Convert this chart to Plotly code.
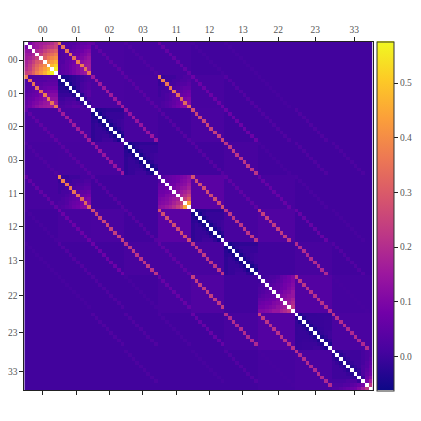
import plotly.graph_objects as go

labels = ["00", "01", "02", "03", "11", "12", "13", "22", "23", "33"]
sizes = [9, 9, 9, 9, 9, 9, 9, 10, 10, 11]
cbar_ticks = [0.0, 0.1, 0.2, 0.3, 0.4, 0.5]
cbar_labels = ["0.0", "0.1", "0.2", "0.3", "0.4", "0.5"]
zmin, zmax = -0.0624, 0.576
default_level = 0.004
diag_level = 1.0

# upper triangles (no diagonal) of the blocks on the main diagonal
tri_00 = [[.09, .13, .15, .16, .17, .18, .20, .24],
          [.13, .15, .17, .20, .22, .23, .26],
          [.18, .20, .24, .27, .29, .31],
          [.24, .29, .32, .34, .37],
          [.31, .36, .39, .41],
          [.40, .43, .46],
          [.48, .52],
          [.56]]
tri_01 = [[-.05, -.04, -.03, -.02, -.01, .00, .01, .02],
          [-.05, -.03, -.02, -.01, .00, .01, .02],
          [-.05, -.02, -.01, .01, .02, .03],
          [-.05, -.01, .01, .02, .03],
          [-.04, .01, .03, .04],
          [-.03, .02, .04],
          [-.02, .02],
          [-.01]]
tri_dark = [[-.05, -.03, -.025, -.02, -.02, -.02, -.02, -.02],
            [-.05, -.02, -.01, -.01, -.01, -.01, -.01],
            [-.05, -.02, -.01, -.01, -.01, -.01],
            [-.05, -.02, -.01, -.005, .00],
            [-.05, -.02, -.005, .00],
            [-.05, -.02, .00],
            [-.05, -.02],
            [-.05]]
tri_11 = [[.03, .05, .06, .07, .08, .09, .10, .12],
          [.05, .06, .07, .08, .10, .11, .13],
          [.07, .08, .10, .11, .12, .15],
          [.09, .11, .13, .14, .17],
          [.12, .15, .17, .20],
          [.17, .20, .24],
          [.24, .30],
          [.44]]
tri_22 = [[.00, .01, .02, .02, .03, .05, .06, .08, .10],
          [.02, .02, .03, .04, .05, .07, .08, .10],
          [.03, .04, .05, .06, .08, .09, .11],
          [.05, .05, .07, .08, .10, .12],
          [.06, .08, .10, .11, .14],
          [.10, .11, .13, .14],
          [.13, .14, .17],
          [.16, .19],
          [.22]]
tri_23 = [[-.04, -.015, -.015, -.012, -.012, -.01, -.01, -.01, -.01],
          [-.04, -.015, -.01, -.01, -.01, -.01, -.008, -.008],
          [-.04, -.015, -.01, -.01, -.008, -.005, -.005],
          [-.04, -.015, -.01, -.008, -.005, -.005],
          [-.04, -.015, -.01, -.005, -.005],
          [-.04, -.015, -.005, .00],
          [-.04, -.015, .00],
          [-.04, -.015],
          [-.04]]
tri_33 = [[-.03, -.01, .00, .00, .00, .00, .00, .01, .02, .03],
          [-.03, -.01, .00, .00, .00, .00, .01, .02, .03],
          [-.03, -.01, .00, .00, .00, .01, .02, .04],
          [-.03, -.01, .00, .00, .01, .03, .05],
          [-.03, -.01, .00, .02, .03, .06],
          [-.03, -.01, .02, .04, .07],
          [-.02, .02, .05, .08],
          [-.01, .07, .11],
          [.09, .16],
          [.22]]

# background of selected off-diagonal blocks (row block, column block)
bg_00_01 = [[.02, .02, .02, .03, .03, .04, .05, .05, .06],
            [.02, .02, .03, .03, .04, .05, .06, .07, .08],
            [.02, .03, .03, .04, .05, .06, .07, .09, .10],
            [.02, .03, .04, .05, .06, .07, .09, .10, .12],
            [.02, .03, .04, .05, .07, .09, .10, .12, .14],
            [.03, .03, .05, .06, .08, .10, .12, .14, .15],
            [.03, .04, .05, .07, .09, .11, .13, .15, .16],
            [.03, .04, .05, .07, .09, .11, .13, .15, .16],
            [.03, .04, .05, .07, .09, .11, .13, .15, .16]]
bg_01_11 = [[-.01, -.01, .00, .00, .00, .01, .01, .02, .02],
            [-.01, -.01, .00, .00, .01, .01, .02, .02, .03],
            [-.01, .00, .00, .01, .01, .02, .03, .03, .04],
            [.00, .00, .01, .01, .02, .03, .04, .05, .05],
            [.00, .01, .01, .02, .03, .04, .05, .06, .07],
            [.00, .01, .02, .03, .04, .05, .06, .07, .08],
            [.01, .01, .02, .03, .05, .06, .07, .09, .10],
            [.01, .02, .03, .04, .05, .07, .09, .10, .11],
            [.01, .02, .03, .04, .06, .08, .10, .11, .12]]

block_tri = {"00": tri_00, "01": tri_01, "02": tri_dark, "03": tri_dark,
             "11": tri_11, "12": tri_dark, "13": tri_dark,
             "22": tri_22, "23": tri_23, "33": tri_33}
block_bg = {("00", "01"): bg_00_01, ("01", "11"): bg_01_11}
block_fill = {("00", "02"): .015, ("00", "03"): .01, ("00", "11"): .01,
              ("01", "02"): .015, ("01", "03"): .012, ("01", "12"): .012,
              ("02", "03"): .012, ("02", "12"): .015, ("03", "13"): .012,
              ("11", "12"): .04, ("11", "13"): .012, ("12", "13"): .012,
              ("12", "22"): .025, ("13", "23"): .012, ("22", "23"): .03,
              ("23", "33"): .015, ("22", "33"): .008, ("11", "22"): .012}

# strongest bands, cell by cell
band_00_01 = [.37, .35, .35, .35, .34, .37, .37, .35, .36]
band_01_02 = [.15, .16, .16, .15, .16, .16, .15, .16, .16]
band_01_11 = [.38, .38, .36, .36, .35, .33, .33, .33, .33]
band_02_03 = [.14, .14, .15, .14, .14, .14, .14, .15, .15]
band_02_12 = [.27, .26, .26, .25, .26, .25, .24, .24, .25]
band_03_13 = [.22, .23, .23, .22, .22, .22, .23, .22, .22]
band_11_12 = [.28, .27, .27, .27, .27, .26, .27, .27, .27]
band_12_13 = [.22, .23, .22, .23, .22, .22, .22, .23, .22]
band_12_22 = [.24, .24, .24, .23, .23, .24, .23, .23, .23]
band_13_23 = [.20, .20, .20, .19, .20, .20, .19, .19, .19]
band_22_23 = [.24, .23, .22, .21, .21, .21, .21, .21, .21, .21]
band_23_33 = [.21, .20, .20, .20, .19, .19, .20, .19, .19, .20]
bands = {("00", "01"): band_00_01, ("01", "02"): band_01_02, ("01", "11"): band_01_11,
         ("02", "03"): band_02_03, ("02", "12"): band_02_12, ("03", "13"): band_03_13,
         ("11", "12"): band_11_12, ("12", "13"): band_12_13, ("12", "22"): band_12_22,
         ("13", "23"): band_13_23, ("22", "23"): band_22_23, ("23", "33"): band_23_33}
# faint bands, one level each
faint = {("00", "02"): .05, ("00", "03"): .025, ("00", "11"): .055, ("00", "12"): .012,
         ("00", "13"): .01, ("01", "03"): .04, ("01", "12"): .07, ("01", "13"): .03,
         ("01", "22"): .01, ("02", "11"): .035, ("02", "13"): .07, ("02", "22"): .025,
         ("02", "23"): .025, ("03", "12"): .035, ("03", "22"): .012, ("03", "23"): .025,
         ("03", "33"): .02, ("11", "13"): .05, ("11", "22"): .06, ("11", "23"): .015,
         ("12", "23"): .06, ("12", "33"): .012, ("13", "33"): .03, ("22", "33"): .012}

starts = {}
total = 0
for name, size in zip(labels, sizes):
    starts[name] = total
    total += size
size_of = dict(zip(labels, sizes))
tick_pos = [starts[n] + size_of[n] / 2 for n in labels]

z = [[default_level] * total for _ in range(total)]


def put(i, j, v):
    z[i][j] = v
    z[j][i] = v


for pair, v in block_fill.items():
    a, b = starts[pair[0]], starts[pair[1]]
    for p in range(size_of[pair[0]]):
        for q in range(size_of[pair[1]]):
            put(a + p, b + q, v)
for pair, table in block_bg.items():
    a, b = starts[pair[0]], starts[pair[1]]
    for p, row in enumerate(table):
        for q, v in enumerate(row):
            put(a + p, b + q, v)
for name, tri in block_tri.items():
    s = starts[name]
    for p, row in enumerate(tri):
        for k, v in enumerate(row):
            put(s + p, s + p + 1 + k, v)
for pair, level in faint.items():
    a, b = starts[pair[0]], starts[pair[1]]
    for k in range(min(size_of[pair[0]], size_of[pair[1]])):
        put(a + k, b + k, level)
for pair, vals in bands.items():
    a, b = starts[pair[0]], starts[pair[1]]
    for k, v in enumerate(vals):
        put(a + k, b + k, v)

diag = [[diag_level if i == j else None for j in range(total)] for i in range(total)]

# the page puts the figure 8 px from the window's corner
W = 413
fig = go.Figure()
fig.add_trace(go.Heatmap(
    z=z, zmin=zmin, zmax=zmax, colorscale="Plasma", hoverinfo="skip",
    colorbar=dict(
        thickness=17, thicknessmode="pixels", len=348.5 / W, lenmode="fraction",
        x=369 / W, xanchor="left", y=1 - 33.5 / W, yanchor="top", xpad=0, ypad=0,
        outlinecolor="#333333", outlinewidth=1, tickmode="array", tickvals=cbar_ticks,
        ticktext=cbar_labels,
        ticks="outside", ticklen=4, tickwidth=1, tickcolor="#222222",
        tickfont=dict(family="Liberation Serif", size=9.5, color="#555555"),
    ),
))
fig.add_trace(go.Heatmap(
    z=diag, zmin=0, zmax=1, colorscale=[[0, "white"], [1, "white"]],
    showscale=False, hoverinfo="skip",
))
axis_font = dict(family="Liberation Serif", size=9.5, color="#555555")
fig.update_layout(
    width=W, height=W, autosize=False, paper_bgcolor="white", plot_bgcolor="white",
    margin=dict(l=0, r=0, t=0, b=0),
    xaxis=dict(domain=[16.3 / W, 364.7 / W], range=[-0.5, total - 0.5], side="top",
               tickvals=tick_pos, ticktext=labels, ticks="outside", ticklen=4, tickwidth=1,
               tickcolor="#222222", showline=True, linecolor="#222222", linewidth=1,
               mirror="allticks", showgrid=False, zeroline=False, tickfont=axis_font,
               tickangle=0),
    yaxis=dict(domain=[1 - 382 / W, 1 - 33.5 / W], range=[total - 0.5, -0.5],
               tickvals=tick_pos, ticktext=labels, ticks="outside", ticklen=4, tickwidth=1,
               tickcolor="#222222", showline=True, linecolor="#222222", linewidth=1,
               mirror=True, showgrid=False, zeroline=False, tickfont=axis_font),
)
fig.write_html("out.html")
